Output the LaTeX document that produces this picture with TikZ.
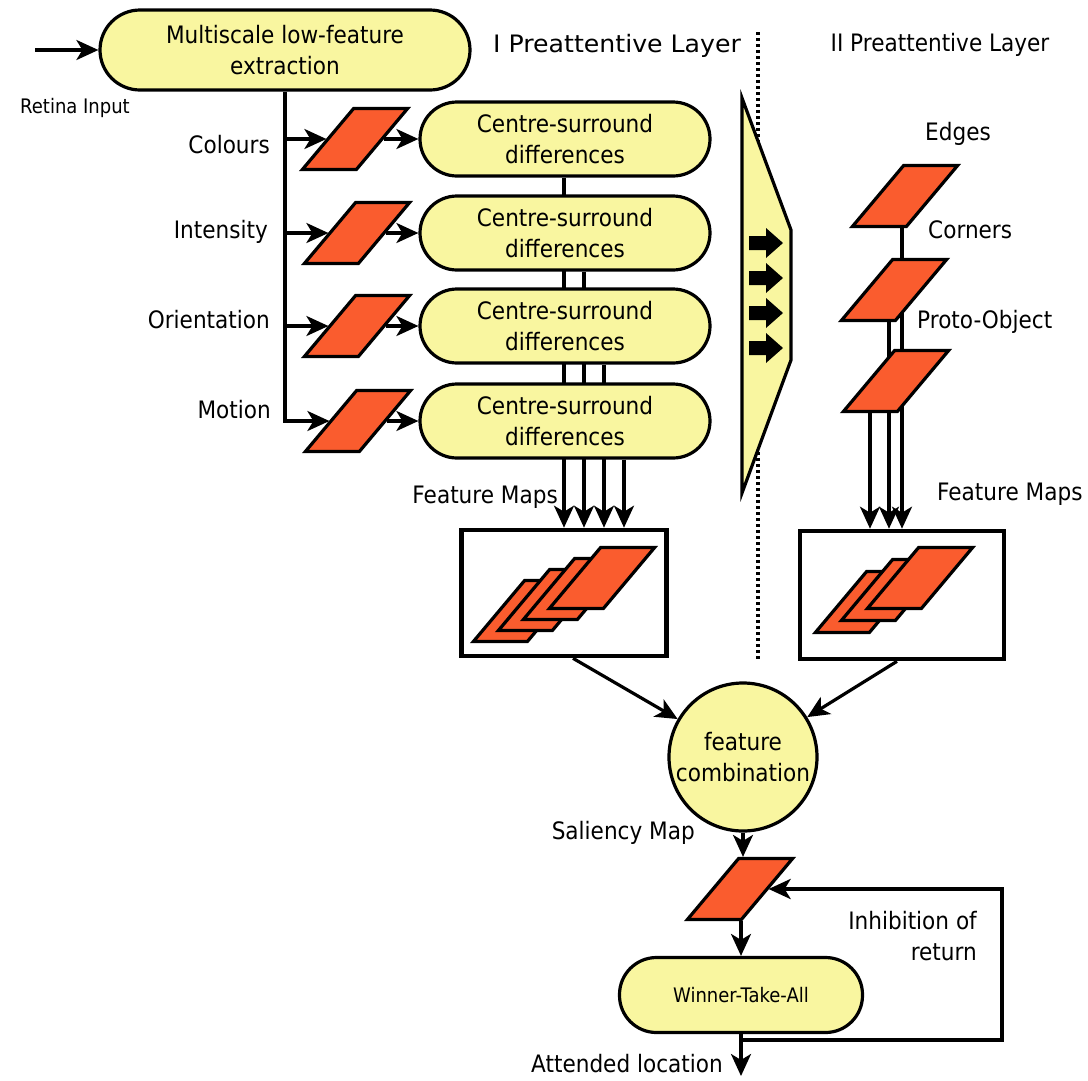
\documentclass[tikz,border=0pt]{standalone}
\usepackage{fontspec}
\setmainfont{DejaVu Sans}[FakeStretch=0.9]
\newfontfamily\titlefont{DejaVu Sans}[FakeStretch=1.05]
\usetikzlibrary{arrows.meta,backgrounds}
\definecolor{boxyellow}{RGB}{249,246,160}
\definecolor{mapred}{RGB}{250,92,46}

\tikzset{
  pics/blockarrow/.style={code={
    \fill (0,-7) -- (17,-7) -- (17,-15) -- (34,0) -- (17,15) -- (17,7) -- (0,7) -- cycle;}}
}

\begin{document}
\begin{tikzpicture}[x=1pt,y=-1pt,
  txt/.style={font=\fontsize{24}{31}\selectfont, inner sep=0pt},
  small/.style={font=\fontsize{20}{26}\selectfont, inner sep=0pt},
  stadium/.style={draw, line width=3.2pt, fill=boxyellow, rounded corners=37pt,
    minimum width=290pt, minimum height=74pt, align=center, inner sep=0pt,
    font=\fontsize{24}{31}\selectfont},
  fmap/.style={draw, line width=3.2pt, fill=mapred, minimum width=54pt,
    minimum height=61pt, xslant=0.84, inner sep=0pt},
  conn/.style={line width=3.2pt},
  arr/.style={conn, -{Stealth[length=22pt,width=20pt,inset=6pt]}},
  mapbox/.style={draw, line width=4.6pt, fill=white, minimum width=205pt,
    minimum height=126pt, inner sep=0pt}
]
\begin{scope}[on background layer]
  \fill[white] (0,0) rectangle (1088,1080);
\end{scope}
\useasboundingbox (0,0) rectangle (1088,1080);

% ---- input stage ----
\node[stadium, minimum width=370pt, minimum height=80pt, rounded corners=40pt]
  (extract) at (285,50) {Multiscale low-feature\\extraction};
\coordinate (retina) at (35,50);
\draw[arr] (retina) -- (extract.west);
\node[small] (retinalbl) at (75,108) {Retina Input};

% ---- layer titles and separator ----
\node[txt, anchor=west, font=\titlefont\fontsize{24}{31}\selectfont] (layer1) at (493,46) {I Preattentive Layer};
\node[txt] (layer2) at (940,45) {II Preattentive Layer};
\coordinate (sepTop) at (758,32);
\coordinate (sepBot) at (758,660);
\begin{scope}[on background layer]
  \draw[line width=3.6pt, dash pattern=on 3pt off 3pt] (sepTop) -- (sepBot);
\end{scope}

% ---- centre-surround channels ----
\node[stadium] (cs1) at (565,139) {Centre-surround\\differences};
\node[stadium] (cs2) at (565,233) {Centre-surround\\differences};
\node[stadium] (cs3) at (565,326) {Centre-surround\\differences};
\node[stadium] (cs4) at (565,421) {Centre-surround\\differences};

\node[fmap] (colp) at (355,139) {};
\node[fmap] (intp) at (357,233) {};
\node[fmap] (orip) at (357,326) {};
\node[fmap] (motp) at (358,421) {};

\node[txt, anchor=east] (lcol) at (270,145) {Colours};
\node[txt, anchor=east] (lint) at (268,232) {Intensity};
\node[txt, anchor=east] (lori) at (270,320) {Orientation};
\node[txt, anchor=east] (lmot) at (271,410) {Motion};

\draw[arr] (extract.south) |- (motp.west);
\draw[arr] (extract.south |- colp.west) -- (colp.west);
\draw[arr] (extract.south |- intp.west) -- (intp.west);
\draw[arr] (extract.south |- orip.west) -- (orip.west);

\draw[arr] (colp.east) -- (colp.east -| cs1.west);
\draw[arr] (intp.east) -- (intp.east -| cs2.west);
\draw[arr] (orip.east) -- (orip.east -| cs3.west);
\draw[arr] (motp.east) -- (motp.east -| cs4.west);

% ---- feature maps, first layer ----
\node[mapbox] (fm1) at (564,593) {};
\foreach \a/\b/\n in {526/611/a, 551/600/b, 576/589/c, 602/578/d}
  \node[fmap] (fm1\n) at (\a,\b) {};
\node[txt, anchor=east] (fmlbl1) at (558,497) {Feature Maps};

\begin{scope}[on background layer]
  \draw[arr] (cs1.south -| fm1.north) -- (fm1.north);
  \draw[arr] ([xshift=20pt]fm1.north |- cs2.south) -- ([xshift=20pt]fm1.north);
  \draw[arr] ([xshift=40pt]fm1.north |- cs3.south) -- ([xshift=40pt]fm1.north);
  \draw[arr] ([xshift=60pt]fm1.north |- cs4.south) -- ([xshift=60pt]fm1.north);
\end{scope}

% ---- transfer block between the layers ----
\draw[line width=3.2pt, fill=boxyellow] (742,98) -- (791,230) -- (791,360) -- (742,493) -- cycle;
\foreach \y in {243,278,313,348}
  \pic at (749,\y) {blockarrow};

% ---- second layer ----
\node[fmap] (edgep) at (905,196) {};
\node[fmap] (cornp) at (894,290) {};
\node[fmap] (protp) at (896,381) {};
\node[txt] (ledge) at (958,134) {Edges};
\node[txt, anchor=west] (lcorn) at (928,230) {Corners};
\node[txt, anchor=west] (lprot) at (917,322) {Proto-Object};

\node[mapbox, minimum width=204pt, minimum height=128pt] (fm2) at (902,595) {};
\foreach \a/\b/\n in {868/602/a, 894/590/b, 920/578/c}
  \node[fmap] (fm2\n) at (\a,\b) {};
\node[txt, anchor=west] (fmlbl2) at (937,494) {Feature Maps};

\begin{scope}[on background layer]
  \draw[arr] (edgep.south -| fm2.north) -- (fm2.north);
  \draw[arr] ([xshift=-13pt]fm2.north |- cornp.south) -- ([xshift=-13pt]fm2.north);
  \draw[arr] ([xshift=-32pt]fm2.north |- protp.south) -- ([xshift=-32pt]fm2.north);
\end{scope}

% ---- combination and selection ----
\node[draw, circle, line width=3.2pt, fill=boxyellow, minimum size=148pt,
  inner sep=0pt, align=center, font=\fontsize{24}{31}\selectfont]
  (comb) at (743,757) {feature\\combination};
\draw[arr] ([xshift=9pt]fm1.south) -- (comb);
\draw[arr] ([xshift=-5pt]fm2.south) -- (comb);

\node[txt, anchor=east] (sallbl) at (695,833) {Saliency Map};
\node[fmap] (salp) at (740,889) {};
\draw[arr] (comb.south) -- (comb.south |- salp.north);

\node[stadium, minimum width=243pt, minimum height=75pt,
  font=\fontsize{20}{26}\selectfont] (wta) at (741,995) {Winner-Take-All};
\draw[arr] (salp.south -| wta.north) -- (wta.north);

\coordinate (loopCorner) at (1002,1040);
\draw[arr, line width=4pt] (wta.south) |- (loopCorner) |- (salp.east);
\node[txt, anchor=east, align=right] (inhlbl) at (977,936) {Inhibition of\\return};

\coordinate (attended) at (741,1076);
\draw[arr] (wta.south) -- (attended);
\node[txt, anchor=east] (attlbl) at (723,1064) {Attended location};
\end{tikzpicture}
\end{document}
